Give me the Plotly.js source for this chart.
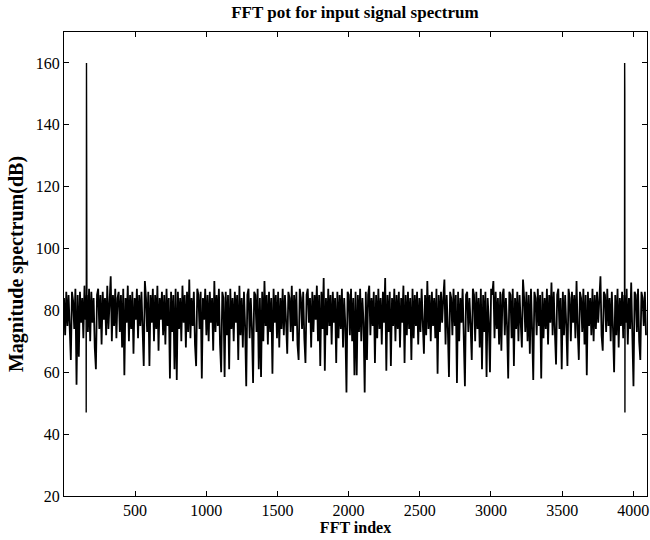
<!DOCTYPE html>
<html>
<head>
<meta charset="utf-8">
<script src="https://cdn.plot.ly/plotly-3.0.1.min.js"></script>
<style>html,body{margin:0;padding:0;background:#fff;}#chart{width:650px;height:540px;}</style>
</head>
<body>
<div id="chart"></div>
<script>
// Spectrum, one value every 8 FFT bins (bin = firstBin + i*binStep)
const firstBin = 1;
const binStep = 8;
const noiseDb = [
84,72,86,75,85,70,64,86,83,74,87,56,85,65,86,76,
84,71,88,77,85,73,87,70,86,76,84,68,61,85,87,74,
85,69,86,77,84,72,88,74,86,91,70,85,75,87,71,84,
86,73,85,68,87,59,84,76,88,70,85,74,86,66,84,77,
87,71,85,75,86,69,62,89.5,84,73,86,62,85,76,87,70,
85,74,88,67,84,77,86,72,85,69,87,75,84,58,86,73,
85,61,87,57.5,86,74,84,70,88,76,85,68,86,73,90,71,
84,75,86,69,62,87,85,74,86,58,84,77,87,72,85,70,
86,76,84,67,89.5,73,85,75,87,69,60,86,84,58.5,86,72,
85,61,87,74,84,70,86,76,85,64,88,72,84,68,86,75,
55.5,85,87,71,84,74,56.5,86,85,73,87,61,84,58.5,86,70,
89.5,75,85,69,86,73,84,59.5,87,76,85,71,86,68,84,74,
87,72,85,76,66,86,84,73,88,70,85,75,86,69,64,87,
84,74,86,71,63,85,87,76,84,68,86,73,85,77,88,70,
85,62,86,74,90.5,60.5,84,72,87,75,85,69,86,76,84,63,
86,71,85,74,87,68,84,75,53.5,86,85,72,87,70,84,59,
86,59,85,73,87,70,84,76,53.5,86,64,85,88,72,84,75,
86,63,85,71,87,74,84,69,86,76,90.5,60.5,85,73,86,62,
84,75,87,70,85,74,86,68,84,76,88,63,85,72,86,74,
84,64,87,71,85,75,86,69,84,73,87,76,66,85,72,89.5,
74,85,70,86,75,84,71,87,59.5,85,73,86,76,84,90,69,
85,74,58.5,86,84,72,87,75,85,56.5,86,70,84,76,87,71,
55.5,85,86,73,84,75,64,87,85,70,86,74,84,68,87,61,
85,73,86,58.5,84,76,60,87,85,89.5,71,86,74,84,69,86,
67,85,87,72,84,75,58,86,85,71,87,62,84,74,86,70,
85,76,68,90,84,73,86,70,85,66,87,74,57.5,86,84,72,
87,75,85,58,86,71,84,74,87,69,85,76,89,72,86,73,
62.5,85,87,74,84,61,86,72,85,75,62,87,84,70,86,76,
85,71,89.5,74,64,86,84,73,87,69,85,59,86,75,84,72,
87,70,85,74,86,76,84,91,72,67,86,85,73,87,75,84,
70,86,74,60,85,72,87,68,84,75,86,71,85,76,87,69,
84,74,89,72,55.5,86,85,73,87,70,64,86,84,75,86,72
];
// The two tones (mirror images) with their neighbouring bins
const toneBinsLeft = [155,156,157,158,159,160,161,162];
const toneDbLeft = [78,84,47,150,160,86,74,83];
const toneBinsRight = [3936,3937,3938,3939,3940,3941,3942,3943];
const toneDbRight = [83,74,86,160,150,47,84,78];
const xTicks = [500,1000,1500,2000,2500,3000,3500,4000];
const yTicks = [20,40,60,80,100,120,140,160];

const noiseBins = noiseDb.map((v, i) => firstBin + i * binStep);
const traces = [
  {x: noiseBins, y: noiseDb, type: 'scatter', mode: 'lines', line: {color: '#000', width: 1.8}, hoverinfo: 'none'},
  {x: toneBinsLeft, y: toneDbLeft, type: 'scatter', mode: 'lines', line: {color: '#000', width: 1.4}, hoverinfo: 'none'},
  {x: toneBinsRight, y: toneDbRight, type: 'scatter', mode: 'lines', line: {color: '#000', width: 1.4}, hoverinfo: 'none'}
];
const fontFam = '"Liberation Serif", "Times New Roman", Times, serif';
const layout = {
  width: 650, height: 540,
  margin: {l: 64, r: 3, t: 32, b: 44},
  paper_bgcolor: '#fff', plot_bgcolor: '#fff',
  showlegend: false,
  font: {family: fontFam, size: 16, color: '#000'},
  title: {text: '<b>FFT pot for input signal spectrum</b>', font: {family: fontFam, size: 17, color: '#000'},
          x: 0.546, xanchor: 'center', y: 0.977, yanchor: 'middle'},
  xaxis: {
    range: [1, 4096], tickvals: xTicks, ticktext: xTicks.map(String),
    ticks: 'inside', ticklen: 5, tickcolor: '#000', tickwidth: 1,
    showline: true, linecolor: '#000', linewidth: 1, mirror: 'ticks',
    showgrid: false, zeroline: false,
    tickfont: {family: fontFam, size: 16, color: '#000'},
    title: {text: '<b>FFT index</b>', font: {family: fontFam, size: 16, color: '#000'}, standoff: 0}
  },
  yaxis: {
    range: [20, 170], tickvals: yTicks, ticktext: yTicks.map(String),
    ticks: 'inside', ticklen: 5, tickcolor: '#000', tickwidth: 1,
    showline: true, linecolor: '#000', linewidth: 1, mirror: 'ticks',
    showgrid: false, zeroline: false,
    tickfont: {family: fontFam, size: 16, color: '#000'},
    title: {text: '<b>Magnitude spectrum(dB)</b>', font: {family: fontFam, size: 20, color: '#000'}, standoff: 6}
  }
};
Plotly.newPlot('chart', traces, layout, {staticPlot: true, displayModeBar: false});
</script>
</body>
</html>
